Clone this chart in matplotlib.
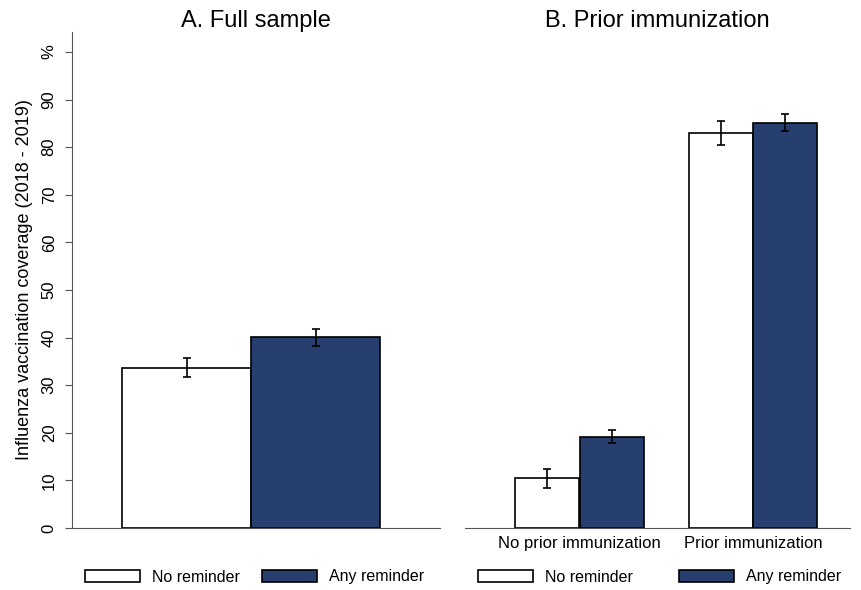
import matplotlib.pyplot as plt
import numpy as np

plt.rcParams['font.family'] = ['Liberation Sans', 'DejaVu Sans']

# Data
series = ["No reminder", "Any reminder"]
full_vals = [33.7, 40.1]
full_err = [2.0, 1.8]

groups = ["No prior immunization", "Prior immunization"]
prior_vals = [[10.4, 83.0], [19.2, 85.1]]
prior_err = [[1.9, 2.6], [1.4, 1.8]]

navy = '#273f6e'
colors = ['white', navy]
yticks = [0, 10, 20, 30, 40, 50, 60, 70, 80, 90, 100]
ytick_labels = ['0', '10', '20', '30', '40', '50', '60', '70', '80', '90', '%']

fig = plt.figure(figsize=(8.61, 5.9), dpi=100)
ax1 = fig.add_axes([72/861, 1-528/590, 368/861, 496/590])
ax2 = fig.add_axes([465/861, 1-528/590, 385/861, 496/590])

# Panel A
xa = [-0.5, 0.5]
for i in range(2):
    ax1.bar(xa[i], full_vals[i], width=1.0, color=colors[i], edgecolor='black',
            linewidth=1.2, label=series[i], zorder=2)
    ax1.errorbar(xa[i], full_vals[i], yerr=full_err[i], fmt='none', ecolor='black',
                 elinewidth=1.2, capsize=3, capthick=1.2, zorder=3)
ax1.set_xlim(-1.39, 1.465)
ax1.set_xticks([])

# Panel B
xg = np.arange(len(groups))
off = 0.186
bw = 0.369
for i in range(2):
    pos = xg + (2*i - 1) * off
    ax2.bar(pos, prior_vals[i], width=bw, color=colors[i], edgecolor='black',
            linewidth=1.2, label=series[i], zorder=2)
    ax2.errorbar(pos, prior_vals[i], yerr=prior_err[i], fmt='none', ecolor='black',
                 elinewidth=1.2, capsize=3, capthick=1.2, zorder=3)
ax2.set_xlim(-0.66, 1.56)
ax2.set_xticks(xg)
ax2.set_xticklabels(groups, fontsize=12)
ax2.tick_params(axis='x', length=0, pad=6)
ax2.set_yticks([])

for ax in (ax1, ax2):
    ax.set_ylim(0, 104.2)
    for s in ['top', 'right']:
        ax.spines[s].set_visible(False)
    ax.spines['bottom'].set_color('#555555')
    ax.spines['left'].set_color('#555555')

ax2.spines['left'].set_visible(False)

ax1.set_yticks(yticks)
ax1.set_yticklabels(ytick_labels, rotation=90, va='center', fontsize=12)
ax1.tick_params(axis='y', length=5, color='#555555', pad=6)
ax1.set_ylabel("Influenza vaccination coverage (2018 - 2019)", fontsize=13, labelpad=6)

ax1.set_title("A. Full sample", fontsize=17, pad=3)
ax2.set_title("B. Prior immunization", fontsize=17, pad=3)

for ax, bx, cs in ((ax1, 85/861, 1.4), (ax2, 478/861, 2.9)):
    h, l = ax.get_legend_handles_labels()
    fig.legend(h, l, loc='center left', bbox_to_anchor=(bx - 0.013, 1 - 577/590), ncol=2,
               frameon=False, fontsize=11.5, handlelength=3.45, handleheight=0.85,
               columnspacing=cs, handletextpad=0.75, borderpad=0.2)

fig.savefig('out.png', dpi=100)
